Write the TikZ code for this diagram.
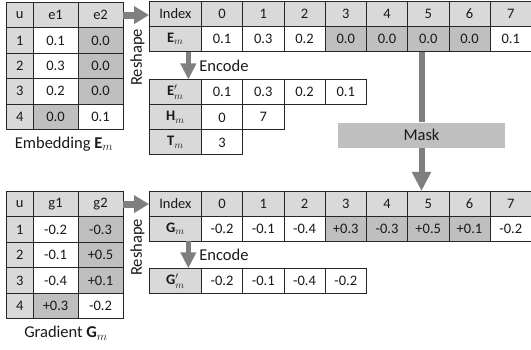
\documentclass[tikz,border=0pt]{standalone}
\usepackage{fontspec}
\setmainfont{Carlito}
\usetikzlibrary{arrows.meta,calc}
\definecolor{hd}{HTML}{D9D9D9}
\definecolor{dk}{HTML}{BFBFBF}
\definecolor{ar}{HTML}{7F7F7F}
\begin{document}
\begin{tikzpicture}[x=1pt,y=-1pt,
  cell/.style={draw=black!85, line width=0.7pt, anchor=north west, inner sep=0pt,
    minimum height=#1, font=\fontsize{14.5}{16}\selectfont, text=black!90},
  cw/.style={minimum width=#1},
  lbl/.style={inner sep=0pt, font=\fontsize{16.5}{18}\selectfont, text=black!90},
  rarrow/.style={draw=ar, line width=7pt, -{Triangle[length=15pt,width=17pt]}},
  earrow/.style={draw=ar, line width=5pt, -{Triangle[length=16pt,width=15pt]}},
  marrow/.style={draw=ar, line width=6pt, -{Triangle[length=19pt,width=18pt]}},
]
\useasboundingbox (0,0) rectangle (531,350);

% ---------- top-left table: Embedding ----------
\node[cell=25.4,cw=26.7,fill=hd] (l00) at (6,2) {u};
\node[cell=25.4,cw=45,fill=hd] (l01) at (32.7,2) {e1};
\node[cell=25.4,cw=45,fill=hd] (l02) at (77.7,2) {e2};
\node[cell=25.4,cw=26.7,fill=hd] (l10) at (6,27.4) {1};
\node[cell=25.4,cw=45,fill=white] (l11) at (32.7,27.4) {0.1};
\node[cell=25.4,cw=45,fill=dk] (l12) at (77.7,27.4) {0.0};
\node[cell=25.4,cw=26.7,fill=hd] (l20) at (6,52.8) {2};
\node[cell=25.4,cw=45,fill=white] (l21) at (32.7,52.8) {0.3};
\node[cell=25.4,cw=45,fill=dk] (l22) at (77.7,52.8) {0.0};
\node[cell=25.4,cw=26.7,fill=hd] (l30) at (6,78.2) {3};
\node[cell=25.4,cw=45,fill=white] (l31) at (32.7,78.2) {0.2};
\node[cell=25.4,cw=45,fill=dk] (l32) at (77.7,78.2) {0.0};
\node[cell=25.4,cw=26.7,fill=hd] (l40) at (6,103.6) {4};
\node[cell=25.4,cw=45,fill=dk] (l41) at (32.7,103.6) {0.0};
\node[cell=25.4,cw=45,fill=white] (l42) at (77.7,103.6) {0.1};
\node[lbl] (cap1) at (64,144) {Embedding $\mathbf{E}_m$};

% ---------- bottom-left table: Gradient ----------
\node[cell=25.5,cw=26.7,fill=hd] (m00) at (6,191) {u};
\node[cell=25.5,cw=45,fill=hd] (m01) at (32.7,191) {g1};
\node[cell=25.5,cw=45,fill=hd] (m02) at (77.7,191) {g2};
\node[cell=25.5,cw=26.7,fill=hd] (m10) at (6,216.5) {1};
\node[cell=25.5,cw=45,fill=white] (m11) at (32.7,216.5) {-0.2};
\node[cell=25.5,cw=45,fill=dk] (m12) at (77.7,216.5) {-0.3};
\node[cell=25.5,cw=26.7,fill=hd] (m20) at (6,242) {2};
\node[cell=25.5,cw=45,fill=white] (m21) at (32.7,242) {-0.1};
\node[cell=25.5,cw=45,fill=dk] (m22) at (77.7,242) {+0.5};
\node[cell=25.5,cw=26.7,fill=hd] (m30) at (6,267.5) {3};
\node[cell=25.5,cw=45,fill=white] (m31) at (32.7,267.5) {-0.4};
\node[cell=25.5,cw=45,fill=dk] (m32) at (77.7,267.5) {+0.1};
\node[cell=25.5,cw=26.7,fill=hd] (m40) at (6,293) {4};
\node[cell=25.5,cw=45,fill=dk] (m41) at (32.7,293) {+0.3};
\node[cell=25.5,cw=45,fill=white] (m42) at (77.7,293) {-0.2};
\node[lbl] (cap2) at (66,333) {Gradient \textbf{G}$_m$};

% ---------- top-right table ----------
\node[cell=25,cw=52,fill=hd] (ti) at (149,1) {Index};
\foreach \t [count=\i from 0] in {0,1,2,3,4,5,6,7}
  \node[cell=25,cw=41.25,fill=hd] (t\i) at ({201+41.25*\i},1) {\t};
\node[cell=25,cw=52,fill=hd] (em) at (149,26) {$\mathbf{E}_m$};
\foreach \v/\f [count=\i from 0] in {0.1/white,0.3/white,0.2/white,0.0/dk,0.0/dk,0.0/dk,0.0/dk,0.1/white}
  \node[cell=25,cw=41.25,fill=\f] (v\i) at ({201+41.25*\i},26) {\v};

% encoded
\node[cell=25,cw=52,fill=hd] (ep) at (149,79.5) {$\mathbf{E}'_m$};
\foreach \v [count=\i from 0] in {0.1,0.3,0.2,0.1}
  \node[cell=25,cw=41.25,fill=white] (p\i) at ({201+41.25*\i},79.5) {\v};
\node[cell=25,cw=52,fill=hd] (hm) at (149,104.5) {$\mathbf{H}_m$};
\node[cell=25,cw=41.25,fill=white] (h0) at (201,104.5) {0};
\node[cell=25,cw=41.25,fill=white] (h1) at (242.25,104.5) {7};
\node[cell=25,cw=52,fill=hd] (tm) at (149,129.5) {$\mathbf{T}_m$};
\node[cell=25,cw=41.25,fill=white] (tt0) at (201,129.5) {3};

% ---------- bottom-right table ----------
\node[cell=24.8,cw=52,fill=hd] (bi) at (149,191) {Index};
\foreach \t [count=\i from 0] in {0,1,2,3,4,5,6,7}
  \node[cell=24.8,cw=41.25,fill=hd] (b\i) at ({201+41.25*\i},191) {\t};
\node[cell=24.8,cw=52,fill=hd] (gm) at (149,215.8) {\textbf{G}$_m$};
\foreach \v/\f [count=\i from 0] in {-0.2/white,-0.1/white,-0.4/white,+0.3/dk,-0.3/dk,+0.5/dk,+0.1/dk,-0.2/white}
  \node[cell=24.8,cw=41.25,fill=\f] (w\i) at ({201+41.25*\i},215.8) {\v};
\node[cell=25,cw=52,fill=hd] (gp) at (149,268.3) {\textbf{G}$'_m$};
\foreach \v [count=\i from 0] in {-0.2,-0.1,-0.4,-0.2}
  \node[cell=25,cw=41.25,fill=white] (q\i) at ({201+41.25*\i},268.3) {\v};

% ---------- labels ----------
\node[lbl,rotate=90] (rs1) at (137.5,57.5) {Reshape};
\node[lbl,rotate=90] (rs2) at (137.5,247.5) {Reshape};
\node[lbl] (enc1) at (224,65.7) {Encode};
\node[lbl] (enc2) at (224,255) {Encode};
\node[fill=dk, inner sep=0pt, minimum width=167pt, minimum height=25pt,
      font=\fontsize{16.5}{18}\selectfont, text=black!90] (mask) at (421.5,135.2) {Mask};

% ---------- arrows ----------
\draw[rarrow] (l02.east) -- (l02.east -| ti.west);
\draw[rarrow] (m02.east) -- (m02.east -| bi.west);
\draw[earrow] ([xshift=13pt]em.south) -- ([xshift=13pt]ep.north);
\draw[earrow] ([xshift=13pt]gm.south) -- ([xshift=13pt]gp.north);
\draw[draw=ar, line width=6pt] (mask.center |- v5.south) -- (mask.north);
\draw[marrow] (mask.south) -- (mask.south |- b5.north);
\end{tikzpicture}
\end{document}
